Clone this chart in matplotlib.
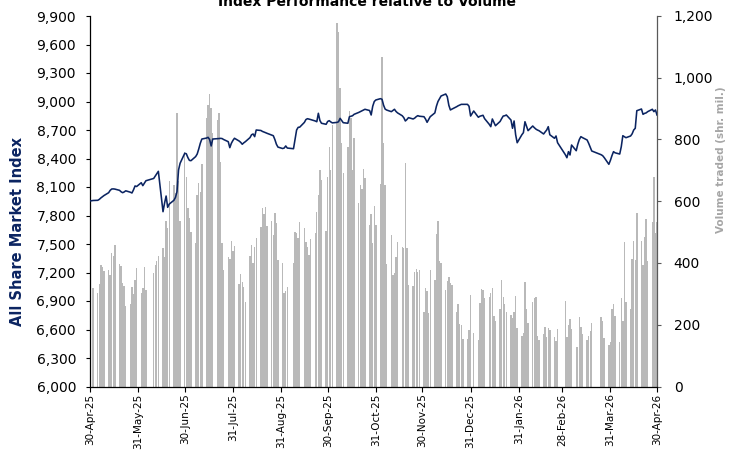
import matplotlib
matplotlib.use("Agg")
import matplotlib.pyplot as plt
import matplotlib.dates as mdates
import matplotlib.ticker as mticker
import pandas as pd

# ---------------- data ----------------
first_monday = "2025-04-28"   # each weekly row = Mon..Fri, None = no trading

volume_by_week = [
    [None, None, 696, None, 318],
    [304, 332, 393, 388, 374],
    [377, 360, 433, 422, 458],
    [397, 391, 334, 326, 262],
    [267, 321, 300, 345, 385],
    [302, 318, 386, 313, None],
    [None, 369, 395, 407, 424],
    [447, 420, 537, 512, 665],
    [653, 626, 887, 666, 537],
    [760, 680, 577, 545, 501],
    [466, 620, 660, 630, 721],
    [869, 912, 946, 901, 820],
    [863, 885, 728, 464, 377],
    [420, 412, 472, 440, 455],
    [332, 364, 340, 323, 275],
    [423, 458, 399, 451, 480],
    [516, 577, 560, 582, 520],
    [537, 491, 561, 529, 410],
    [400, 302, 310, 323, None],
    [399, 501, 498, 480, 534],
    [512, 469, 453, 426, 477],
    [498, 566, 620, 701, 669],
    [505, 678, 777, 700, 847],
    [1176, 1149, 966, 790, 690],
    [777, 892, 870, 700, 804],
    [593, 653, 640, 703, 676],
    [523, 559, 464, 585, 523],
    [656, 1066, 790, 653, 397],
    [491, 360, 367, 420, 469],
    [453, 448, 723, 448, 329],
    [326, 372, 380, 370, 376],
    [242, 318, 308, 237, 377],
    [345, 494, 537, 406, 401],
    [313, 343, 354, 335, 329],
    [242, 267, 201, 198, 153],
    [153, 183, 296, None, 172],
    [151, 270, 315, 311, 286],
    [290, 302, 318, 228, 213],
    [250, 345, 291, 267, 240],
    [232, 222, 242, 293, 188],
    [164, 174, 340, 250, 207],
    [275, 286, 290, 164, 150],
    [170, 194, 160, 188, 184],
    [159, 148, 185, None, None],
    [278, 161, 200, 218, 185],
    [129, 129, 224, 194, 170],
    [151, 165, 181, 207, None],
    [None, None, 224, 213, 156],
    [134, 145, 250, 267, 228],
    [145, 286, 211, 469, 275],
    [250, 412, 472, 410, 561],
    [472, 394, 485, 542, 408],
    [534, 680, 498, 534, None],
]

index_by_week = [
    [None, None, 7953, None, 7958],
    [7960, 7970, 7985, 7998, 8010],
    [8040, 8065, 8079, 8080, 8078],
    [8065, 8050, 8040, 8048, 8060],
    [8045, 8037, 8070, 8111, 8105],
    [8145, 8114, 8140, 8166, None],
    [None, 8190, 8216, 8240, 8265],
    [7840, 7930, 8005, 7886, 7920],
    [7960, 7990, 8051, 8279, 8350],
    [8455, 8450, 8410, 8380, 8377],
    [8420, 8447, 8500, 8560, 8605],
    [8615, 8623, 8600, 8532, 8605],
    [8608, 8610, 8612, 8610, 8600],
    [8577, 8514, 8560, 8590, 8613],
    [8584, 8570, 8550, 8565, 8577],
    [8620, 8650, 8658, 8630, 8700],
    [8695, 8685, 8679, 8672, 8665],
    [8647, 8640, 8600, 8550, 8520],
    [8505, 8510, 8532, 8510, None],
    [8503, 8600, 8700, 8728, 8730],
    [8780, 8810, 8819, 8815, 8810],
    [8795, 8787, 8876, 8800, 8771],
    [8760, 8790, 8798, 8785, 8775],
    [8780, 8787, 8823, 8800, 8777],
    [8771, 8840, 8845, 8850, 8865],
    [8885, 8893, 8900, 8910, 8918],
    [8905, 8858, 8950, 9000, 9016],
    [9030, 9023, 8960, 8920, 8910],
    [8893, 8905, 8918, 8895, 8880],
    [8850, 8830, 8795, 8810, 8830],
    [8816, 8825, 8840, 8851, 8845],
    [8840, 8815, 8781, 8810, 8840],
    [8880, 8950, 9000, 9030, 9058],
    [9079, 9050, 8960, 8911, 8920],
    [8945, 8955, 8962, 8970, 8970],
    [8970, 8950, 8847, None, 8900],
    [8834, 8845, 8850, 8855, 8820],
    [8760, 8735, 8816, 8780, 8745],
    [8790, 8820, 8847, 8850, 8858],
    [8805, 8718, 8795, 8650, 8566],
    [8650, 8672, 8787, 8740, 8693],
    [8742, 8725, 8710, 8700, 8693],
    [8658, 8680, 8700, 8735, 8650],
    [8613, 8637, 8566, None, None],
    [8440, 8408, 8472, 8437, 8542],
    [8482, 8550, 8600, 8630, 8620],
    [8595, 8560, 8520, 8479, None],
    [None, None, 8440, 8430, 8410],
    [8339, 8380, 8430, 8472, 8460],
    [8447, 8524, 8640, 8630, 8619],
    [8637, 8660, 8700, 8718, 8903],
    [8921, 8865, 8875, 8880, 8893],
    [8918, 8893, 8911, 8858, None],
]

tick_dates = ["2025-04-30", "2025-05-31", "2025-06-30", "2025-07-31", "2025-08-31",
              "2025-09-30", "2025-10-31", "2025-11-30", "2025-12-31", "2026-01-31",
              "2026-02-28", "2026-03-31", "2026-04-30"]
tick_labels = ["30-Apr-25", "31-May-25", "30-Jun-25", "31-Jul-25", "31-Aug-25",
               "30-Sep-25", "31-Oct-25", "30-Nov-25", "31-Dec-25", "31-Jan-26",
               "28-Feb-26", "31-Mar-26", "30-Apr-26"]
left_ticks = list(range(6000, 9901, 300))
right_ticks = list(range(0, 1201, 200))

title = "Index Performance relative to Volume"
left_label = "All Share Market Index"
right_label = "Volume traded (shr. mil.)"

# ---------------- assemble daily series ----------------
start = pd.Timestamp(first_monday)
dates, vols, idxs = [], [], []
for w, (vw, iw) in enumerate(zip(volume_by_week, index_by_week)):
    for d in range(5):
        if vw[d] is None or iw[d] is None:
            continue
        dates.append(start + pd.Timedelta(days=7 * w + d))
        vols.append(vw[d])
        idxs.append(iw[d])
xd = mdates.date2num(pd.to_datetime(dates))
xt = mdates.date2num(pd.to_datetime(tick_dates))

NAVY = "#0B2461"
GREY_BAR = "#B9B9B9"

# ---------------- figure ----------------
W, H = 742, 451
fig = plt.figure(figsize=(W / 100, H / 100), dpi=100)
L, R, T, B = 90, 657, 16, 386.5
ax = fig.add_axes([L / W, 1 - B / H, (R - L) / W, (B - T) / H])
ax2 = ax.twinx()

ax2.bar(xd, vols, width=0.9, color=GREY_BAR, linewidth=0, zorder=1)
ax.plot(xd, idxs, color=NAVY, lw=1.15, zorder=3, solid_joinstyle="round")

ax.set_zorder(ax2.get_zorder() + 1)
ax.patch.set_visible(False)

ax.set_xlim(xt[0], xt[-1])
ax.set_ylim(6000, 9900)
ax2.set_ylim(0, 1200)

ax.set_yticks(left_ticks)
ax.yaxis.set_major_formatter(mticker.FuncFormatter(lambda v, p: f"{v:,.0f}"))
ax2.set_yticks(right_ticks)
ax2.yaxis.set_major_formatter(mticker.FuncFormatter(lambda v, p: f"{v:,.0f}"))

ax.set_xticks(xt)
ax.set_xticklabels(tick_labels, rotation=90, fontsize=7.5)

for s in ["top", "right"]:
    ax.spines[s].set_visible(False)
for s in ["top", "left", "bottom"]:
    ax2.spines[s].set_visible(False)
ax.spines["left"].set_color("black")
ax.spines["bottom"].set_color("black")
ax.spines["left"].set_linewidth(0.9)
ax.spines["bottom"].set_linewidth(0.9)
ax2.spines["right"].set_color("#595959")
ax2.spines["right"].set_linewidth(0.9)

ax.tick_params(axis="y", direction="out", length=3, width=0.8, labelsize=10, pad=7)
ax.tick_params(axis="x", direction="out", length=3.5, width=0.8, pad=1.5)
ax2.tick_params(axis="y", direction="out", length=3, width=0.8, labelsize=10, pad=9,
                color="#595959")

fig.text(367 / W, 1 - 6 / H, title, ha="center", va="baseline",
         fontsize=10, fontweight="bold", color="black")
fig.text(18 / W, 1 - 232 / H, left_label, rotation=90, ha="center", va="center",
         fontsize=10.5, fontweight="bold", color=NAVY)
fig.text(721 / W, 1 - 160 / H, right_label, rotation=90, ha="center", va="center",
         fontsize=7.5, fontweight="bold", color="#A6A6A6")

fig.savefig("out.png", dpi=100)
